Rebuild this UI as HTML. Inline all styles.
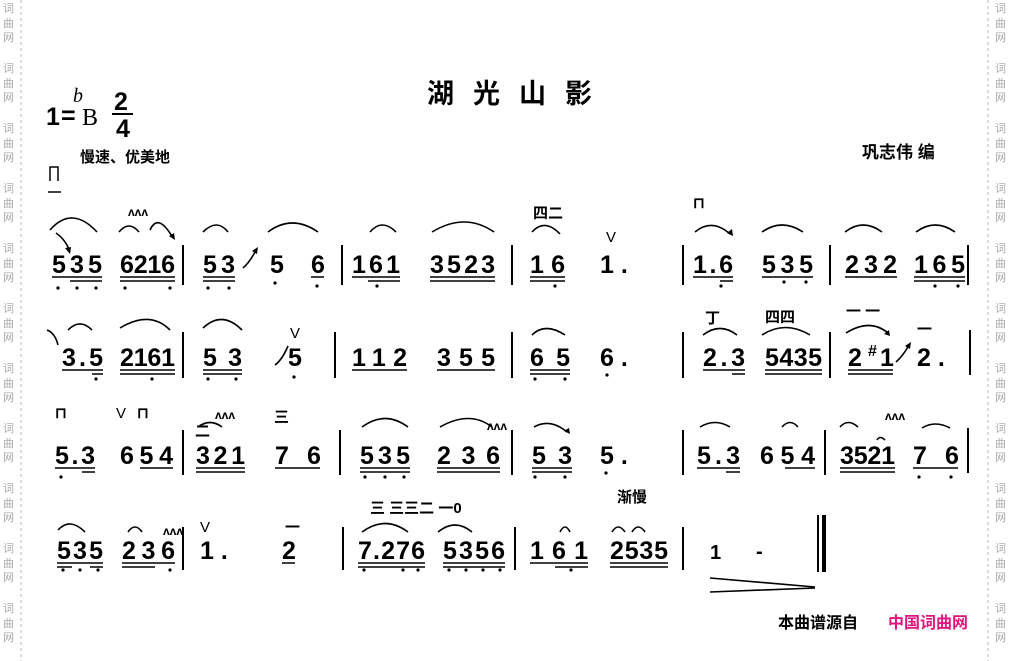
<!DOCTYPE html>
<html><head><meta charset="utf-8"><style>
html,body{margin:0;padding:0;background:#fff;width:1010px;height:661px;overflow:hidden}
svg{display:block}
.n{font-family:"Liberation Sans",sans-serif;font-weight:bold;font-size:25px;fill:#000}
.c{font-family:"Liberation Sans","Noto Sans CJK SC",sans-serif;font-weight:bold;fill:#000}
.w{font-family:"Noto Sans CJK SC",sans-serif;font-size:11px;fill:#aaa}
</style></head><body>
<svg width="1010" height="661" viewBox="0 0 1010 661" xmlns="http://www.w3.org/2000/svg">
<g stroke="#bbb" stroke-dasharray="3,3" stroke-width="1"><line x1="21" y1="0" x2="21" y2="661"/><line x1="988" y1="0" x2="988" y2="661"/></g>
<g class="w">
<text x="3" y="12">词</text><text x="3" y="27">曲</text><text x="3" y="41">网</text>
<text x="3" y="72">词</text><text x="3" y="87">曲</text><text x="3" y="101">网</text>
<text x="3" y="132">词</text><text x="3" y="147">曲</text><text x="3" y="161">网</text>
<text x="3" y="192">词</text><text x="3" y="207">曲</text><text x="3" y="221">网</text>
<text x="3" y="252">词</text><text x="3" y="267">曲</text><text x="3" y="281">网</text>
<text x="3" y="312">词</text><text x="3" y="327">曲</text><text x="3" y="341">网</text>
<text x="3" y="372">词</text><text x="3" y="387">曲</text><text x="3" y="401">网</text>
<text x="3" y="432">词</text><text x="3" y="447">曲</text><text x="3" y="461">网</text>
<text x="3" y="492">词</text><text x="3" y="507">曲</text><text x="3" y="521">网</text>
<text x="3" y="552">词</text><text x="3" y="567">曲</text><text x="3" y="581">网</text>
<text x="3" y="612">词</text><text x="3" y="627">曲</text><text x="3" y="641">网</text>
<text x="995" y="12">词</text><text x="995" y="27">曲</text><text x="995" y="41">网</text>
<text x="995" y="72">词</text><text x="995" y="87">曲</text><text x="995" y="101">网</text>
<text x="995" y="132">词</text><text x="995" y="147">曲</text><text x="995" y="161">网</text>
<text x="995" y="192">词</text><text x="995" y="207">曲</text><text x="995" y="221">网</text>
<text x="995" y="252">词</text><text x="995" y="267">曲</text><text x="995" y="281">网</text>
<text x="995" y="312">词</text><text x="995" y="327">曲</text><text x="995" y="341">网</text>
<text x="995" y="372">词</text><text x="995" y="387">曲</text><text x="995" y="401">网</text>
<text x="995" y="432">词</text><text x="995" y="447">曲</text><text x="995" y="461">网</text>
<text x="995" y="492">词</text><text x="995" y="507">曲</text><text x="995" y="521">网</text>
<text x="995" y="552">词</text><text x="995" y="567">曲</text><text x="995" y="581">网</text>
<text x="995" y="612">词</text><text x="995" y="627">曲</text><text x="995" y="641">网</text>
</g>
<!-- header -->
<text class="n" x="46" y="125" font-size="26">1</text>
<text class="n" x="61" y="124" font-size="22">=</text>
<text x="73" y="102" font-family="Liberation Serif" font-size="20" font-style="italic">b</text>
<text x="82" y="125" font-family="Liberation Serif" font-size="24">B</text>
<text class="n" x="114" y="110" font-size="20">2</text>
<line x1="112" y1="114" x2="133" y2="114" stroke="#000" stroke-width="2"/>
<text class="n" x="116" y="137" font-size="20">4</text>
<text class="c" x="80" y="162" font-size="15">慢速、优美地</text>
<path d="M50 181V167H58V181" fill="none" stroke="#000" stroke-width="1.5"/>
<line x1="48" y1="192" x2="61" y2="192" stroke="#000" stroke-width="1.5"/>
<text class="c" x="427" y="103" font-size="27" letter-spacing="19">湖光山影</text>
<text class="c" x="862" y="158" font-size="17">巩志伟  编</text>

<!-- bars -->
<g stroke="#000" stroke-width="2">
<line x1="183" y1="245" x2="183" y2="285"/><line x1="342" y1="245" x2="342" y2="285"/><line x1="512" y1="245" x2="512" y2="285"/><line x1="683" y1="245" x2="683" y2="285"/><line x1="830" y1="245" x2="830" y2="285"/><line x1="968" y1="245" x2="968" y2="285"/>
<line x1="183" y1="332" x2="183" y2="378"/><line x1="335" y1="332" x2="335" y2="378"/><line x1="512" y1="332" x2="512" y2="378"/><line x1="683" y1="332" x2="683" y2="378"/><line x1="830" y1="332" x2="830" y2="378"/><line x1="970" y1="330" x2="970" y2="375"/>
<line x1="183" y1="430" x2="183" y2="475"/><line x1="340" y1="430" x2="340" y2="475"/><line x1="512" y1="430" x2="512" y2="475"/><line x1="683" y1="430" x2="683" y2="475"/><line x1="825" y1="430" x2="825" y2="475"/><line x1="968" y1="428" x2="968" y2="473"/>
<line x1="183" y1="527" x2="183" y2="570"/><line x1="343" y1="527" x2="343" y2="570"/><line x1="515" y1="527" x2="515" y2="570"/><line x1="683" y1="527" x2="683" y2="570"/>
<line x1="818" y1="515" x2="818" y2="572"/><line x1="824" y1="515" x2="824" y2="572" stroke-width="4"/>
</g>

<!-- notes -->
<g class="n">
<text x="52" y="273" textLength="50" lengthAdjust="spacing">535</text>
<text x="120" y="273" textLength="55" lengthAdjust="spacing">6216</text>
<text x="203" y="273" textLength="32" lengthAdjust="spacing">53</text>
<text x="270" y="273">5</text><text x="311" y="273">6</text>
<text x="352" y="273" textLength="48" lengthAdjust="spacing">161</text>
<text x="430" y="273" textLength="65" lengthAdjust="spacing">3523</text>
<text x="530" y="273" textLength="35" lengthAdjust="spacing">16</text>
<text x="600" y="273">1 .</text>
<text x="693" y="273" textLength="40" lengthAdjust="spacing">1.6</text>
<text x="762" y="273" textLength="51" lengthAdjust="spacing">535</text>
<text x="845" y="273" textLength="52" lengthAdjust="spacing">232</text>
<text x="914" y="273" textLength="51" lengthAdjust="spacing">165</text>

<text x="62" y="366" textLength="41" lengthAdjust="spacing">3.5</text>
<text x="120" y="366" textLength="55" lengthAdjust="spacing">2161</text>
<text x="203" y="366" textLength="39" lengthAdjust="spacing">53</text>
<text x="288" y="366">5</text>
<text x="352" y="366" textLength="55" lengthAdjust="spacing">112</text>
<text x="437" y="366" textLength="58" lengthAdjust="spacing">355</text>
<text x="530" y="366" textLength="40" lengthAdjust="spacing">65</text>
<text x="600" y="366">6 .</text>
<text x="703" y="366" textLength="42" lengthAdjust="spacing">2.3</text>
<text x="765" y="366" textLength="57" lengthAdjust="spacing">5435</text>
<text x="848" y="366">2</text><text x="880" y="366">1</text>
<text x="917" y="366">2 .</text>

<text x="55" y="464" textLength="40" lengthAdjust="spacing">5.3</text>
<text x="120" y="464" textLength="53" lengthAdjust="spacing">654</text>
<text x="196" y="464" textLength="49" lengthAdjust="spacing">321</text>
<text x="275" y="464">7</text><text x="307" y="464">6</text>
<text x="360" y="464" textLength="50" lengthAdjust="spacing">535</text>
<text x="437" y="464" textLength="63" lengthAdjust="spacing">236</text>
<text x="532" y="464" textLength="40" lengthAdjust="spacing">53</text>
<text x="600" y="464">5 .</text>
<text x="697" y="464" textLength="43" lengthAdjust="spacing">5.3</text>
<text x="760" y="464" textLength="55" lengthAdjust="spacing">654</text>
<text x="840" y="464" textLength="55" lengthAdjust="spacing">3521</text>
<text x="913" y="464">7</text><text x="945" y="464">6</text>

<text x="57" y="559" textLength="46" lengthAdjust="spacing">535</text>
<text x="122" y="559" textLength="53" lengthAdjust="spacing">236</text>
<text x="200" y="559">1 .</text>
<text x="282" y="559">2</text>
<text x="358" y="559" textLength="67" lengthAdjust="spacing">7.276</text>
<text x="443" y="559" textLength="62" lengthAdjust="spacing">5356</text>
<text x="530" y="559" textLength="58" lengthAdjust="spacing">161</text>
<text x="610" y="559" textLength="58" lengthAdjust="spacing">2535</text>
<text x="710" y="559" font-size="20">1</text>
<text x="756" y="558" font-size="20">-</text>
</g>
<text x="868" y="356" font-family="Liberation Sans" font-weight="bold" font-size="16">#</text>

<!-- underlines -->
<g stroke="#000" stroke-width="1.5" fill="none">
<path d="M52 277H102M70 281H102M120 277H175M120 281H175M203 277H235M203 281H235M311 277H324M352 277H400M368 281H400M430 277H495M430 281H495M530 277H565M530 281H565M693 277H733M720 281H733M762 277H813M845 277H897M914 277H965M914 281H965"/>
<path d="M62 370H103M92 374H103M120 370H175M120 374H175M203 370H242M203 374H242M352 370H407M437 370H495M530 370H570M530 374H570M703 370H745M732 374H745M765 370H822M765 374H822M848 370H893M848 374H893"/>
<path d="M55 468H95M82 472H95M140 468H173M196 468H245M196 472H245M275 468H320M360 468H410M360 472H410M437 468H500M437 472H500M532 468H572M532 472H572M697 468H740M726 472H740M785 468H815M840 468H895M840 472H895M913 468H958"/>
<path d="M57 563H103M57 567H72M90 567H103M122 563H175M122 567H155M282 563H295M358 563H425M358 567H425M443 563H505M443 567H505M530 563H588M555 567H588M610 563H668M610 567H668"/>
</g>
<!-- dots -->
<g fill="#000">
<circle cx="58" cy="288" r="1.6"/><circle cx="77" cy="288" r="1.6"/><circle cx="96" cy="288" r="1.6"/><circle cx="125" cy="288" r="1.6"/><circle cx="170" cy="288" r="1.6"/><circle cx="208" cy="288" r="1.6"/><circle cx="229" cy="288" r="1.6"/><circle cx="275" cy="283" r="1.6"/><circle cx="317" cy="286" r="1.6"/><circle cx="377" cy="286" r="1.6"/><circle cx="555" cy="286" r="1.6"/><circle cx="721" cy="286" r="1.6"/><circle cx="784" cy="282" r="1.6"/><circle cx="806" cy="282" r="1.6"/><circle cx="935" cy="286" r="1.6"/><circle cx="958" cy="286" r="1.6"/>
<circle cx="96" cy="379" r="1.6"/><circle cx="152" cy="379" r="1.6"/><circle cx="208" cy="379" r="1.6"/><circle cx="236" cy="379" r="1.6"/><circle cx="294" cy="377" r="1.6"/><circle cx="535" cy="379" r="1.6"/><circle cx="565" cy="379" r="1.6"/><circle cx="607" cy="375" r="1.6"/>
<circle cx="61" cy="477" r="1.6"/><circle cx="535" cy="477" r="1.6"/><circle cx="565" cy="477" r="1.6"/><circle cx="606" cy="473" r="1.6"/><circle cx="919" cy="477" r="1.6"/><circle cx="951" cy="477" r="1.6"/><circle cx="365" cy="477" r="1.6"/><circle cx="385" cy="477" r="1.6"/><circle cx="404" cy="477" r="1.6"/>
<circle cx="63" cy="570" r="1.6"/><circle cx="80" cy="570" r="1.6"/><circle cx="98" cy="570" r="1.6"/><circle cx="170" cy="570" r="1.6"/><circle cx="364" cy="570" r="1.6"/><circle cx="403" cy="570" r="1.6"/><circle cx="418" cy="570" r="1.6"/><circle cx="449" cy="570" r="1.6"/><circle cx="466" cy="570" r="1.6"/><circle cx="483" cy="570" r="1.6"/><circle cx="500" cy="570" r="1.6"/><circle cx="571" cy="570" r="1.6"/>
</g>
<!-- slurs -->
<g stroke="#000" stroke-width="1.6" fill="none">
<path d="M50 230Q72 205 97 232"/><path d="M56 233Q66 240 70 252"/><path d="M119 232Q129 220 139 232"/><path d="M150 230Q158 212 173 238"/>
<path d="M203 232Q217 218 228 232"/><path d="M243 268Q250 262 256 250"/><path d="M268 232Q292 214 318 232"/>
<path d="M370 232Q382 218 396 232"/><path d="M432 232Q465 212 494 232"/>
<path d="M532 232Q545 218 560 234"/><path d="M695 232Q712 218 730 234"/><path d="M762 232Q782 218 803 232"/><path d="M845 232Q863 218 882 232"/><path d="M916 232Q935 218 955 232"/>
<path d="M47 330Q55 333 58 345"/><path d="M68 330Q80 318 92 330"/><path d="M120 328Q150 310 170 330"/><path d="M203 328Q222 310 242 330"/><path d="M275 365Q282 360 288 346"/>
<path d="M532 335Q545 322 565 335"/><path d="M703 335Q720 322 737 335"/><path d="M762 335Q785 320 810 335"/><path d="M846 333Q870 318 888 333"/><path d="M896 362Q903 356 909 345"/>
<path d="M198 427Q210 418 222 427"/><path d="M362 427Q385 410 408 427"/><path d="M440 427Q470 410 492 427"/><path d="M534 427Q550 418 567 432"/>
<path d="M700 427Q715 418 730 427"/><path d="M782 427Q790 418 798 427"/><path d="M840 427Q848 418 858 427"/><path d="M877 440Q880 435 885 440"/><path d="M922 428Q935 420 950 428"/>
<path d="M58 530Q70 517 85 532"/><path d="M128 532Q135 522 142 532"/><path d="M362 532Q385 515 408 532"/><path d="M438 532Q455 518 472 532"/><path d="M560 532Q565 522 570 532"/><path d="M612 532Q618 522 625 532"/><path d="M632 532Q638 522 645 532"/>
<path d="M710 578L815 587M710 592L815 588"/>
</g>
<g fill="#000"><path d="M70 254l-5-6 6-1z"/><path d="M175 240l-6-4 5-3z"/><path d="M258 247l-1 7-5-3z"/><path d="M570 434l-6-3 5-3z"/><path d="M733 236l-6-3 5-4z"/><path d="M890 336l-6-2 5-4z"/><path d="M911 342l-1 7-5-3z"/></g>
<!-- marks -->
<g class="c" font-size="15">
<text x="533" y="218">四二</text><text x="606" y="242" font-weight="normal">V</text>
<text x="693" y="208">⊓</text>
<text x="705" y="323">丁</text><text x="765" y="322">四四</text><text x="846" y="316">一 一</text><text x="917" y="334">一</text><text x="290" y="338" font-weight="normal">V</text>
<text x="55" y="418">⊓</text><text x="116" y="418" font-weight="normal">V</text><text x="137" y="418">⊓</text><text x="195" y="436">二</text><text x="274" y="422">三</text>
<text x="200" y="532" font-weight="normal">V</text><text x="285" y="532">一</text>
<text x="370" y="513">三 三三二 一0</text><text x="617" y="502">渐慢</text>
<text x="128" y="216" font-size="12">ʌʌʌ</text><text x="215" y="419" font-size="12">ʌʌʌ</text><text x="487" y="430" font-size="12">ʌʌʌ</text><text x="885" y="420" font-size="12">ʌʌʌ</text><text x="163" y="535" font-size="12">ʌʌʌ</text>
</g>
<text class="c" x="778" y="628" font-size="16">本曲谱源自</text>
<text class="c" x="888" y="628" font-size="16" style="fill:#e0147c">中国词曲网</text>
</svg>
</body></html>
